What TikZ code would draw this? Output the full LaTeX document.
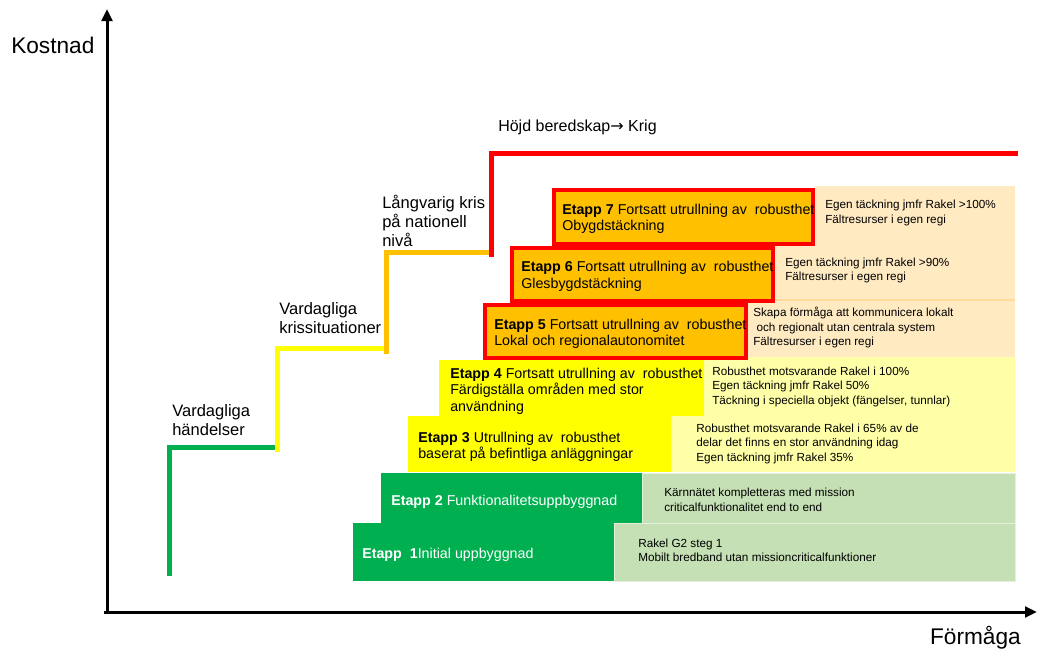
\documentclass[tikz,border=0pt]{standalone}
\usepackage{fontspec}
\setmainfont{Liberation Sans}
\newfontfamily\arrowfont{DejaVu Sans}
\usetikzlibrary{arrows.meta}
\definecolor{dgreen}{HTML}{00B050}
\definecolor{lgreen}{HTML}{C5E0B4}
\definecolor{gold}{HTML}{FFC000}
\definecolor{peach}{HTML}{FFEAC2}
\definecolor{peachline}{HTML}{FFDC9A}
\definecolor{lyellow}{HTML}{FFFFA8}
\definecolor{myyellow}{HTML}{FFFF00}
\definecolor{myred}{HTML}{FF0000}
\begin{document}
\begin{tikzpicture}[x=0.75pt,y=-0.75pt,
  sz/.style 2 args={minimum width=#1*0.75pt, minimum height=#2*0.75pt},
  cellbase/.style={rectangle, inner sep=0pt, outer sep=0pt},
  peachcell/.style={cellbase, fill=peach},
  yelcell/.style={cellbase, fill=lyellow},
  grncell/.style={cellbase, fill=lgreen, draw=lgreen!45!white, line width=0.75pt},
  redbox/.style={cellbase, fill=gold, draw=myred, line width=3pt},
  yelbox/.style={cellbase, fill=myyellow},
  grnbox/.style={cellbase, fill=dgreen},
  boxtext/.style={anchor=west, inner sep=0pt, align=left, font=\fontsize{10.7pt}{12.4pt}\selectfont},
  celltext/.style={anchor=west, inner sep=0pt, align=left, font=\fontsize{8.8pt}{10.9pt}\selectfont},
  steplabel/.style={anchor=west, inner sep=0pt, align=left, font=\fontsize{12.4pt}{14.25pt}\selectfont},
  axislabel/.style={inner sep=0pt, font=\fontsize{17pt}{20pt}\selectfont},
  stair/.style={line width=3.75pt, line cap=rect, line join=miter},
  axis/.style={line width=2.25pt, -{Triangle[length=9pt,width=8pt]}}
]
\useasboundingbox (0,0) rectangle (1037,650);

% right-hand cells
\node[peachcell, sz={200}{58}] (c7) at (915,215) {};
\node[peachcell, sz={240}{56}] (c6) at (895,272) {};
\node[peachcell, sz={267}{57}] (c5) at (881.5,328.5) {};
\draw[peachline, line width=1.5pt] (c5.north west) -- (c5.north east);
\node[yelcell, sz={311}{58}] (c4) at (859.5,386) {};
\node[yelcell, sz={344}{57}] (c3) at (843,443.5) {};
\node[grncell, sz={373}{50}] (c2) at (828.5,498) {};
\node[grncell, sz={401}{58}] (c1) at (814.5,552) {};

% etapp boxes
\node[grnbox, sz={261}{58}] (e1) at (483.5,552) {};
\node[grnbox, sz={261}{50}] (e2) at (511.5,498) {};
\node[yelbox, sz={263}{56}] (e3) at (539.5,444) {};
\node[yelbox, sz={265}{56}] (e4) at (571.5,388) {};
\node[redbox, sz={261}{53}] (e5) at (615.5,331.5) {};
\node[redbox, sz={261}{53}] (e6) at (642.5,274.5) {};
\node[redbox, sz={259}{54}] (e7) at (683.5,217) {};

% box texts
\node[boxtext] (t7) at (562,219) {\textbf{Etapp 7} Fortsatt utrullning av\ \ robusthet\\Obygdstäckning};
\node[boxtext] (t6) at (521,276.5) {\textbf{Etapp 6} Fortsatt utrullning av\ \ robusthet\\Glesbygdstäckning};
\node[boxtext] (t5) at (494,334) {\textbf{Etapp 5} Fortsatt utrullning av\ \ robusthet\\Lokal och regionalautonomitet};
\node[boxtext] (t4) at (450,391) {\textbf{Etapp 4} Fortsatt utrullning av\ \ robusthet\\Färdigställa områden med stor\\användning};
\node[boxtext] (t3) at (418,447) {\textbf{Etapp 3} Utrullning av\ \ robusthet\\baserat på befintliga anläggningar};
\node[boxtext, text=white] (t2) at (391,502) {\textbf{Etapp 2} Funktionalitetsuppbyggnad};
\node[boxtext, text=white] (t1) at (362,555) {\textbf{Etapp\ \ 1}Initial uppbyggnad};

% cell texts
\node[celltext] (r7) at (825,213) {Egen täckning jmfr Rakel >100\%\\Fältresurser i egen regi};
\node[celltext] (r6) at (785,270.5) {Egen täckning jmfr Rakel >90\%\\Fältresurser i egen regi};
\node[celltext] (r5) at (753,327.5) {Skapa förmåga att kommunicera lokalt\\\ och regionalt utan centrala system\\Fältresurser i egen regi};
\node[celltext] (r4) at (712,386.5) {Robusthet motsvarande Rakel i 100\%\\Egen täckning jmfr Rakel 50\%\\Täckning i speciella objekt (fängelser, tunnlar)};
\node[celltext] (r3) at (696,443.5) {Robusthet motsvarande Rakel i 65\% av de\\delar det finns en stor användning idag\\Egen täckning jmfr Rakel 35\%};
\node[celltext] (r2) at (664,500) {Kärnnätet kompletteras med mission\\criticalfunktionalitet end to end};
\node[celltext] (r1) at (638,550.5) {Rakel G2 steg 1\\Mobilt bredband utan missioncriticalfunktioner};

% staircase
\draw[stair, dgreen] (169,573) -- (169,447) -- (274,447);
\draw[stair, myyellow] (277,449) -- (277,348) -- (385,348);
\draw[stair, gold] (386,351) -- (386,252) -- (490,252);
\draw[stair, myred] (491,254) -- (491,153) -- (1015,153);

% step labels
\node[steplabel] (l1) at (172,420.5) {Vardagliga\\händelser};
\node[steplabel] (l2) at (279,318) {Vardagliga\\krissituationer};
\node[steplabel] (l3) at (382,221) {Långvarig kris\\på nationell\\nivå};
\node[anchor=west, inner sep=0pt, font=\fontsize{12pt}{13pt}\selectfont] (l4) at (498,127) {Höjd beredskap{\arrowfont →} Krig};

% axes
\coordinate (O) at (107,612);
\coordinate (ytop) at (107,9);
\coordinate (xstart) at (104,612);
\coordinate (xend) at (1037,612);
\draw[axis] (O) -- (ytop);
\draw[axis] (xstart) -- (xend);
\node[axislabel, anchor=west] (ky) at (11,45) {Kostnad};
\node[axislabel, anchor=east] (kx) at (1021,638) {Förmåga};
\end{tikzpicture}
\end{document}
